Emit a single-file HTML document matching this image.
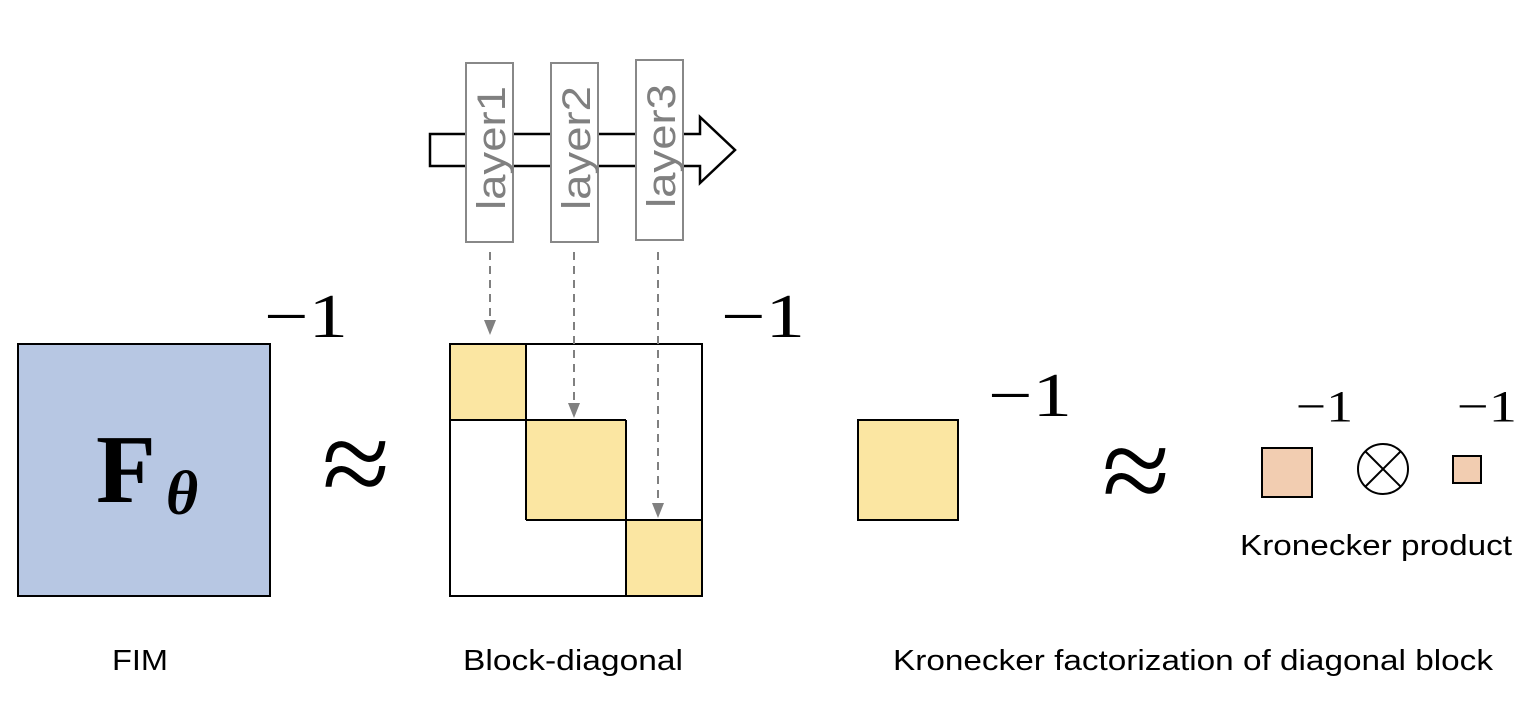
<!DOCTYPE html>
<html><head><meta charset="utf-8"><style>
html,body{margin:0;padding:0;background:#fff;}
svg{display:block;}
.s{font-family:"Liberation Serif",serif;}
.a{font-family:"Liberation Sans",sans-serif;}
</style></head><body>
<svg width="1538" height="708" viewBox="0 0 1538 708" xmlns="http://www.w3.org/2000/svg">
<!-- FIM -->
<rect x="18" y="344" width="252" height="252" fill="#b7c7e3" stroke="#000" stroke-width="2"/>
<text x="96" y="502" class="s" font-size="98" font-weight="bold">F</text>
<text x="166" y="514" class="s" font-size="62" font-style="italic" font-weight="bold">θ</text>
<text x="264" y="337" class="s" font-size="62" textLength="84" lengthAdjust="spacingAndGlyphs">−1</text>
<text x="322" y="505" class="s" font-size="124" textLength="68" lengthAdjust="spacingAndGlyphs">≈</text>
<!-- block diagonal -->
<rect x="450" y="344" width="76" height="76" fill="#fbe6a2"/>
<rect x="526" y="420" width="100" height="100" fill="#fbe6a2"/>
<rect x="626" y="520" width="76" height="76" fill="#fbe6a2"/>
<g stroke="#000" stroke-width="2" fill="none">
<rect x="450" y="344" width="252" height="252"/>
<line x1="450" y1="420" x2="626" y2="420"/>
<line x1="526" y1="520" x2="702" y2="520"/>
<line x1="526" y1="344" x2="526" y2="520"/>
<line x1="626" y1="420" x2="626" y2="596"/>
</g>
<text x="721" y="337" class="s" font-size="62" textLength="84" lengthAdjust="spacingAndGlyphs">−1</text>
<!-- arrow -->
<path d="M430,134 L700,134 L700,117 L735,150 L700,183 L700,166 L430,166 Z" fill="#fff" stroke="#000" stroke-width="2.5"/>
<g fill="#fff" stroke="#888" stroke-width="2">
<rect x="466" y="63" width="47" height="179"/>
<rect x="551" y="63" width="47" height="179"/>
<rect x="636" y="60" width="47" height="180"/>
</g>
<g class="a" font-size="40" fill="#808080">
<text transform="translate(505,210) rotate(-90)" textLength="124" lengthAdjust="spacingAndGlyphs">layer1</text>
<text transform="translate(590,210) rotate(-90)" textLength="124" lengthAdjust="spacingAndGlyphs">layer2</text>
<text transform="translate(675,208) rotate(-90)" textLength="124" lengthAdjust="spacingAndGlyphs">layer3</text>
</g>
<g stroke="#808080" stroke-width="2" stroke-dasharray="8,6" fill="none">
<line x1="490" y1="252" x2="490" y2="322"/>
<line x1="574" y1="252" x2="574" y2="405"/>
<line x1="658" y1="252" x2="658" y2="505"/>
</g>
<g fill="#808080">
<path d="M484,320 L496,320 L490,335 Z"/>
<path d="M568,403 L580,403 L574,418 Z"/>
<path d="M652,503 L664,503 L658,518 Z"/>
</g>
<!-- diagonal block -->
<rect x="858" y="420" width="100" height="100" fill="#fbe6a2" stroke="#000" stroke-width="2"/>
<text x="988" y="416" class="s" font-size="62" textLength="84" lengthAdjust="spacingAndGlyphs">−1</text>
<text x="1102" y="512" class="s" font-size="124" textLength="68" lengthAdjust="spacingAndGlyphs">≈</text>
<rect x="1262" y="448" width="50" height="49" fill="#f2cdb1" stroke="#000" stroke-width="2"/>
<circle cx="1383" cy="469" r="25" fill="#fff" stroke="#000" stroke-width="2"/>
<line x1="1365" y1="451" x2="1401" y2="487" stroke="#000" stroke-width="2"/>
<line x1="1401" y1="451" x2="1365" y2="487" stroke="#000" stroke-width="2"/>
<rect x="1453" y="456" width="28" height="27" fill="#f2cdb1" stroke="#000" stroke-width="2"/>
<text x="1296" y="421" class="s" font-size="44" textLength="57" lengthAdjust="spacingAndGlyphs">−1</text>
<text x="1457" y="421" class="s" font-size="44" textLength="60" lengthAdjust="spacingAndGlyphs">−1</text>
<text x="1240" y="555" class="a" font-size="29" textLength="272" lengthAdjust="spacingAndGlyphs">Kronecker product</text>
<text x="112" y="670" class="a" font-size="29" textLength="56" lengthAdjust="spacingAndGlyphs">FIM</text>
<text x="463" y="670" class="a" font-size="29" textLength="220" lengthAdjust="spacingAndGlyphs">Block-diagonal</text>
<text x="893" y="670" class="a" font-size="29" textLength="600" lengthAdjust="spacingAndGlyphs">Kronecker factorization of diagonal block</text>
</svg>
</body></html>
